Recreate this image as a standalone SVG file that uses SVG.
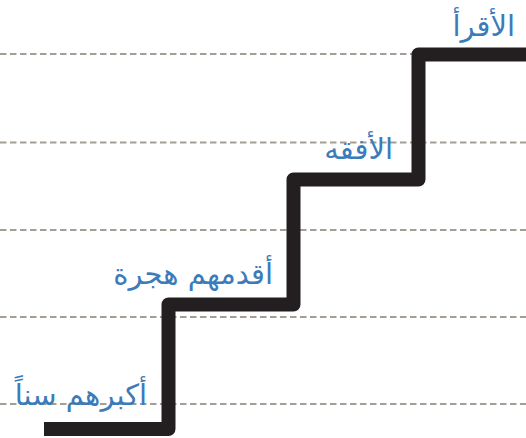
<svg xmlns="http://www.w3.org/2000/svg" width="526" height="438" viewBox="0 0 526 438">
<style>
.grid{stroke:#a59e97;stroke-width:2;stroke-dasharray:6.5 3.5;fill:none}
.stair{stroke:#231f20;stroke-width:14;fill:none;stroke-linejoin:round}
.lbl{font-family:"DejaVu Sans",sans-serif;font-size:29px;fill:#3c7bb9;text-anchor:end}
</style>
<rect width="526" height="438" fill="#ffffff"/>
<g id="gridlines">
<line class="grid" x1="0" y1="54" x2="526" y2="54"/>
<line class="grid" x1="0" y1="142.5" x2="526" y2="142.5"/>
<line class="grid" x1="0" y1="230" x2="526" y2="230"/>
<line class="grid" x1="0" y1="317" x2="526" y2="317"/>
<line class="grid" x1="0" y1="404" x2="526" y2="404"/>
</g>
<g id="connectors">
<path class="stair" d="M44,429 H168.5 V304.5 H293.5 V179.5 H418.5 V54.5 H526"/>
</g>
<g id="step1"><text class="lbl" x="147" y="405">أكبرهم سناً</text></g>
<g id="step2"><text class="lbl" x="273" y="284">أقدمهم هجرة</text></g>
<g id="step3"><text class="lbl" x="393" y="159">الأفقه</text></g>
<g id="step4"><text class="lbl" x="515" y="36">الأقرأ</text></g>
</svg>
